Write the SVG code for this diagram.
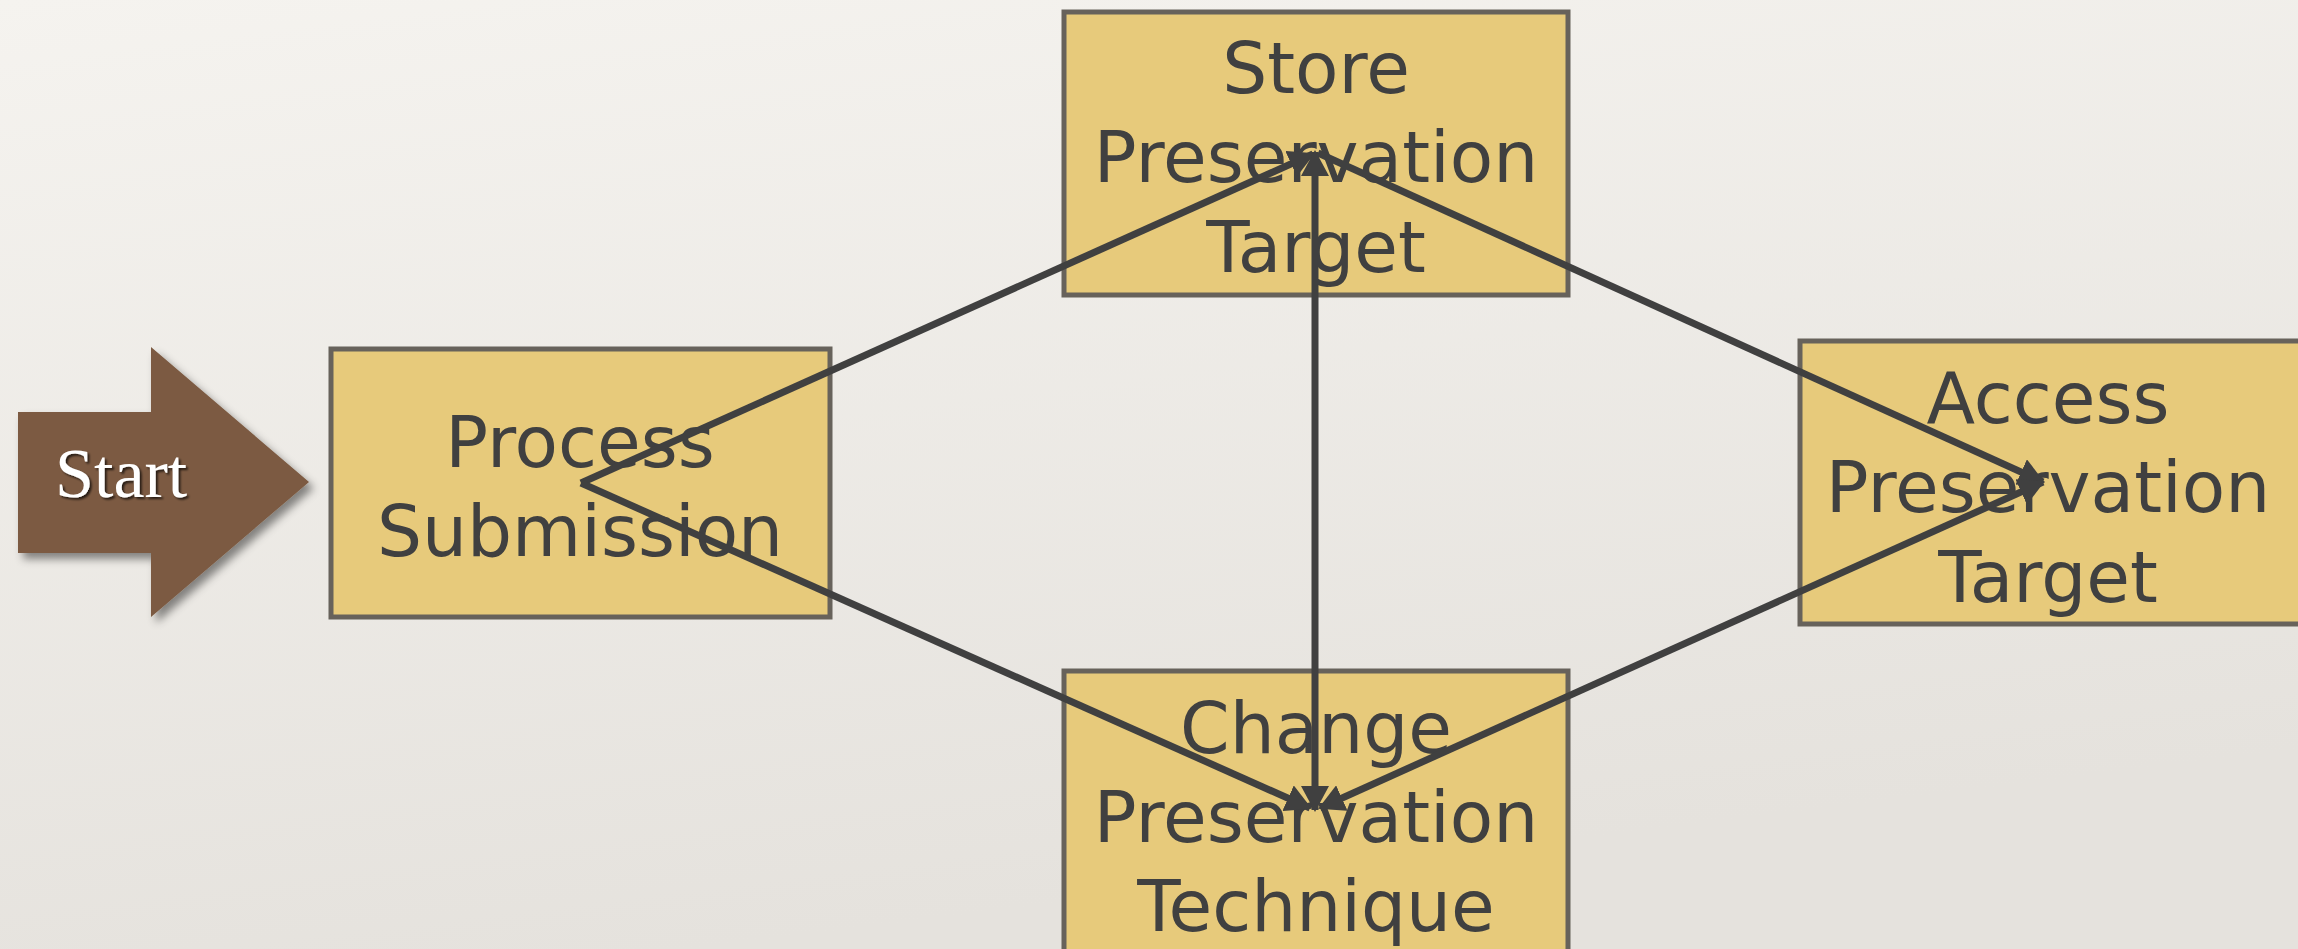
<svg xmlns="http://www.w3.org/2000/svg" width="2298" height="949" viewBox="0 0 2298 949">
<defs>
<linearGradient id="bg" x1="0" y1="0" x2="0.3" y2="1">
<stop offset="0" stop-color="#f5f3ef"/>
<stop offset="1" stop-color="#e5e2dd"/>
</linearGradient>
<filter id="sh" x="-20%" y="-20%" width="140%" height="140%">
<feDropShadow dx="5" dy="6" stdDeviation="4" flood-color="#000" flood-opacity="0.45"/>
</filter>
<filter id="tsh" x="-20%" y="-20%" width="140%" height="140%">
<feDropShadow dx="2" dy="2" stdDeviation="1" flood-color="#000" flood-opacity="0.7"/>
</filter>
<marker id="ah" markerUnits="userSpaceOnUse" markerWidth="26" markerHeight="28" refX="24" refY="14" orient="auto-start-reverse">
<path d="M0,0 L26,14 L0,28 Z" fill="#404040"/>
</marker>
</defs>
<style>
.box{fill:#e7ca7b;stroke:#67625b;stroke-width:5}
.lbl{font-family:"DejaVu Sans",sans-serif;font-size:71px;fill:#404040;text-anchor:middle}
.con{stroke:#404040;stroke-width:7;fill:none}
</style>
<rect x="0" y="0" width="2298" height="949" fill="url(#bg)"/>
<g id="start">
<path d="M18,412 L151,412 L151,347 L309,482 L151,617 L151,553 L18,553 Z" fill="#7b5a42" filter="url(#sh)"/>
<text x="55" y="497" font-family="'Liberation Serif',serif" font-size="70" fill="#ffffff" filter="url(#tsh)">Start</text>
</g>
<g id="process">
<rect class="box" x="331" y="349" width="499" height="268"/>
<text class="lbl" x="580" y="467">Process</text>
<text class="lbl" x="580" y="556">Submission</text>
</g>
<g id="store">
<rect class="box" x="1064" y="12" width="504" height="283"/>
<text class="lbl" x="1316" y="93">Store</text>
<text class="lbl" x="1316" y="182">Preservation</text>
<text class="lbl" x="1316" y="272">Target</text>
</g>
<g id="change">
<rect class="box" x="1064" y="671" width="504" height="300"/>
<text class="lbl" x="1316" y="753">Change</text>
<text class="lbl" x="1316" y="842">Preservation</text>
<text class="lbl" x="1316" y="931">Technique</text>
</g>
<g id="access">
<rect class="box" x="1800" y="341" width="510" height="283"/>
<text class="lbl" x="2048" y="423">Access</text>
<text class="lbl" x="2048" y="512">Preservation</text>
<text class="lbl" x="2048" y="602">Target</text>
</g>
<g id="connectors">
<line class="con" x1="581" y1="483" x2="1313" y2="154" marker-end="url(#ah)"/>
<line class="con" x1="581" y1="483" x2="1310" y2="808" marker-end="url(#ah)"/>
<line class="con" x1="1315" y1="152" x2="1315" y2="810" marker-start="url(#ah)" marker-end="url(#ah)"/>
<line class="con" x1="1318" y1="153" x2="2043" y2="482" marker-end="url(#ah)"/>
<line class="con" x1="1320" y1="808" x2="2043" y2="482" marker-start="url(#ah)" marker-end="url(#ah)"/>
</g>
</svg>
